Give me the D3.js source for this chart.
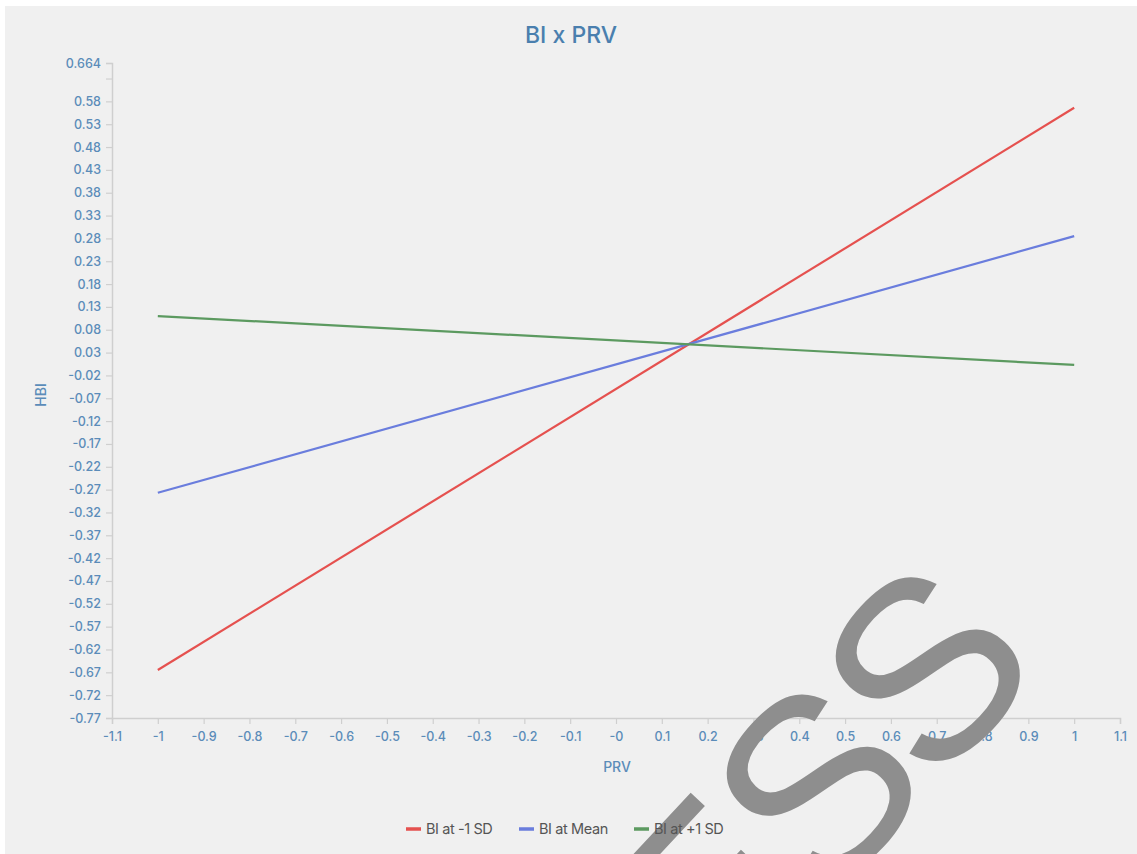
<!DOCTYPE html>
<html>
<head>
<meta charset="utf-8">
<script src="https://cdn.jsdelivr.net/npm/d3@7"></script>
<style>
  html, body { margin: 0; padding: 0; background: #ffffff; }
  svg { display: block; }
  text { font-family: Inter, "Open Sans", sans-serif; }
</style>
</head>
<body>
<svg id="chart" width="1137" height="854"></svg>
<script>
// Simple-slopes data: predicted HBI at PRV = -1 and +1 for three BI levels
const prvPoints = [-1, 1];
const seriesNames = ["BI at -1 SD", "BI at Mean", "BI at +1 SD"];
const hbiLowBI = [-0.665, 0.566];
const hbiMeanBI = [-0.277, 0.285];
const hbiHighBI = [0.110, 0.003];
const seriesColors = ["#e5514f", "#6a7ddd", "#5c9a60"];

const xTickValues = [-1.1, -1, -0.9, -0.8, -0.7, -0.6, -0.5, -0.4, -0.3, -0.2, -0.1, 0, 0.1, 0.2, 0.3, 0.4, 0.5, 0.6, 0.7, 0.8, 0.9, 1, 1.1];
const xTickLabels = ["-1.1", "-1", "-0.9", "-0.8", "-0.7", "-0.6", "-0.5", "-0.4", "-0.3", "-0.2", "-0.1", "-0", "0.1", "0.2", "0.3", "0.4", "0.5", "0.6", "0.7", "0.8", "0.9", "1", "1.1"];
const yTickValues = [-0.77, -0.72, -0.67, -0.62, -0.57, -0.52, -0.47, -0.42, -0.37, -0.32, -0.27, -0.22, -0.17, -0.12, -0.07, -0.02, 0.03, 0.08, 0.13, 0.18, 0.23, 0.28, 0.33, 0.38, 0.43, 0.48, 0.53, 0.58, 0.63, 0.664];
const yTickLabels = ["-0.77", "-0.72", "-0.67", "-0.62", "-0.57", "-0.52", "-0.47", "-0.42", "-0.37", "-0.32", "-0.27", "-0.22", "-0.17", "-0.12", "-0.07", "-0.02", "0.03", "0.08", "0.13", "0.18", "0.23", "0.28", "0.33", "0.38", "0.43", "0.48", "0.53", "0.58", "", "0.664"];

const series = [hbiLowBI, hbiMeanBI, hbiHighBI].map((vals, i) => ({
  name: seriesNames[i],
  color: seriesColors[i],
  points: prvPoints.map((x, j) => ({ x, y: vals[j] }))
}));

const svg = d3.select("#chart");
const W = 1137, H = 854;

// panel background
svg.append("rect").attr("x", 5).attr("y", 6).attr("width", W - 5).attr("height", H - 6).attr("fill", "#f0f0f0");

const x = d3.scaleLinear().domain([-1.1, 1.1]).range([112, 1120]);
const y = d3.scaleLinear().domain([-0.77, 0.664]).range([718, 63]);

const tickColor = "#5b8cb9";
const axisColor = "#cfcfcf";

// x axis
const xAxis = svg.append("g").attr("transform", `translate(0,${y(-0.77)})`)
  .call(d3.axisBottom(x).tickValues(xTickValues).tickSize(6).tickPadding(8)
    .tickFormat((d, i) => xTickLabels[i]));
// y axis
const yAxis = svg.append("g").attr("transform", `translate(${x(-1.1)},0)`)
  .call(d3.axisLeft(y).tickValues(yTickValues).tickSize(6).tickPadding(5)
    .tickFormat((d, i) => yTickLabels[i]));

[xAxis, yAxis].forEach(g => {
  g.select(".domain").attr("stroke", axisColor).attr("stroke-width", 1.5);
  g.selectAll(".tick line").attr("stroke", axisColor).attr("stroke-width", 1.2);
  g.selectAll(".tick text").attr("fill", tickColor)
    .attr("font-size", 12.5).attr("font-weight", 500)
    .style("font-family", "Inter, sans-serif");
});

// title and axis titles
svg.append("text").attr("x", 571).attr("y", 43).attr("text-anchor", "middle")
  .attr("fill", "#4a7fae").attr("font-size", 23).attr("font-weight", 500).text("BI x PRV");
svg.append("text").attr("x", 617).attr("y", 772).attr("text-anchor", "middle")
  .attr("fill", tickColor).attr("font-size", 14).attr("font-weight", 500).text("PRV");
svg.append("text").attr("transform", "translate(46,395) rotate(-90)").attr("text-anchor", "middle")
  .attr("fill", tickColor).attr("font-size", 14).attr("font-weight", 500).text("HBI");

// lines
const line = d3.line().x(d => x(d.x)).y(d => y(d.y));
svg.append("g").selectAll("path").data(series).join("path")
  .attr("d", d => line(d.points))
  .attr("fill", "none")
  .attr("stroke", d => d.color)
  .attr("stroke-width", 2.2);

// watermark
svg.append("text")
  .attr("transform", "translate(714,1025) rotate(-47)")
  .attr("fill", "#8e8e8e")
  .attr("font-size", 255)
  .attr("letter-spacing", -10)
  .style("font-family", "'Liberation Sans', Arial, sans-serif")
  .text("ESS");

// legend
const legendX = [406, 519, 634];
const legend = svg.append("g").selectAll("g").data(series).join("g")
  .attr("transform", (d, i) => `translate(${legendX[i]},829)`);
legend.append("line").attr("x1", 0).attr("x2", 15).attr("y1", 0).attr("y2", 0)
  .attr("stroke", d => d.color).attr("stroke-width", 3.5);
legend.append("text").attr("x", 20).attr("y", 5).attr("fill", "#555")
  .attr("font-size", 14.5).attr("letter-spacing", -0.4).text(d => d.name);
</script>
</body>
</html>
